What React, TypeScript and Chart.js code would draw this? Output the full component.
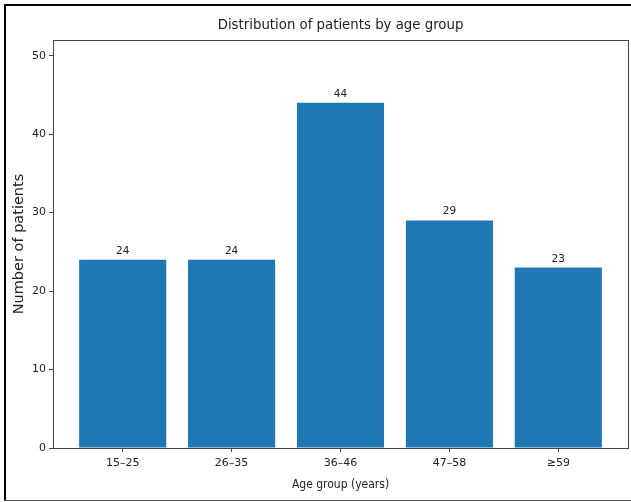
import React, { useEffect, useRef } from "react";
import { Chart, registerables } from "chart.js";

Chart.register(...registerables);

const categories = ["15–25", "26–35", "36–46", "47–58", "≥59"];
const patientCounts = [24, 24, 44, 29, 23];
const yTicks = [0, 10, 20, 30, 40, 50];

const titleText = "Distribution of patients by age group";
const xTitle = "Age group (years)";
const yTitle = "Number of patients";

const CFONT = "'DejaVu Sans Condensed', 'DejaVu Sans', sans-serif";
const FONT = "'DejaVu Sans', sans-serif";
const TEXT = "#222";
const SPINE = "#444";

const valueLabels = {
  id: "valueLabels",
  afterDatasetsDraw(chart: any) {
    const { ctx } = chart;
    const meta = chart.getDatasetMeta(0);
    ctx.save();
    ctx.font = `10.5px ${FONT}`;
    ctx.fillStyle = TEXT;
    ctx.textAlign = "center";
    ctx.textBaseline = "alphabetic";
    meta.data.forEach((el: any, i: number) => {
      ctx.fillText(String(patientCounts[i]), el.x, el.y - 6);
    });
    ctx.restore();
  },
};

const plotTitle = {
  id: "plotTitle",
  afterDraw(chart: any) {
    const { ctx, chartArea } = chart;
    ctx.save();
    ctx.font = `14.8px ${CFONT}`;
    ctx.fillStyle = TEXT;
    ctx.textAlign = "center";
    ctx.textBaseline = "middle";
    ctx.fillText(titleText, (chartArea.left + chartArea.right) / 2, 25);
    ctx.restore();
  },
};

const boxSpines = {
  id: "boxSpines",
  afterDraw(chart: any) {
    const { ctx, chartArea } = chart;
    ctx.save();
    ctx.strokeStyle = SPINE;
    ctx.lineWidth = 1;
    ctx.strokeRect(
      Math.round(chartArea.left) + 0.5,
      Math.round(chartArea.top) + 0.5,
      Math.round(chartArea.right - chartArea.left),
      Math.round(chartArea.bottom - chartArea.top)
    );
    ctx.restore();
  },
};

export default function App() {
  const ref = useRef<HTMLCanvasElement | null>(null);

  useEffect(() => {
    if (!ref.current) return;
    const chart = new Chart(ref.current, {
      type: "bar",
      data: {
        datasets: [
          {
            data: patientCounts.map((v, i) => ({ x: i, y: v })),
            backgroundColor: "#1f77b4",
            borderWidth: 0,
            categoryPercentage: 1,
            barPercentage: 0.8,
          },
        ],
      },
      options: {
        animation: false,
        responsive: true,
        maintainAspectRatio: false,
        layout: { padding: { left: 0, top: 40, right: 3, bottom: 0 } },
        plugins: {
          legend: { display: false },
          tooltip: { enabled: false },
          title: { display: false },
        },
        scales: {
          x: {
            type: "linear",
            min: -0.64,
            max: 4.64,
            offset: false,
            afterBuildTicks: (scale: any) => {
              scale.ticks = categories.map((_, i) => ({ value: i }));
            },
            afterFit: (scale: any) => {
              scale.height = 54;
            },
            ticks: {
              autoSkip: false,
              maxRotation: 0,
              color: TEXT,
              font: { family: FONT, size: 11 },
              padding: 5,
              callback: (v: any) => categories[v as number] ?? "",
            },
            grid: {
              display: true,
              offset: false,
              drawOnChartArea: false,
              drawTicks: true,
              tickLength: 4,
              color: SPINE,
            },
            border: { display: true, color: SPINE, width: 1 },
            title: {
              display: true,
              text: xTitle,
              color: TEXT,
              font: { family: CFONT, size: 12 },
              padding: { top: 0, bottom: 10 },
            },
          },
          y: {
            type: "linear",
            min: 0,
            max: 52,
            afterBuildTicks: (scale: any) => {
              scale.ticks = yTicks.map((v) => ({ value: v }));
            },
            afterFit: (scale: any) => {
              scale.width = 53;
            },
            ticks: {
              color: TEXT,
              font: { family: FONT, size: 11 },
              padding: 3,
            },
            grid: {
              display: true,
              drawOnChartArea: false,
              drawTicks: true,
              tickLength: 4,
              color: SPINE,
            },
            border: { display: true, color: SPINE, width: 1 },
            title: {
              display: true,
              text: yTitle,
              color: TEXT,
              font: { family: FONT, size: 14.5 },
              padding: { top: 11, bottom: 0 },
            },
          },
        },
      },
      plugins: [valueLabels, boxSpines, plotTitle],
    } as any);
    return () => chart.destroy();
  }, []);

  return (
    <div
      style={{
        position: "absolute",
        left: 0,
        top: 0,
        width: 631,
        height: 502,
        overflow: "hidden",
        background: "#fff",
      }}
    >
      <div style={{ position: "absolute", left: 4, top: 4, width: 627, height: 2, background: "#000" }} />
      <div style={{ position: "absolute", left: 4, top: 4, width: 2, height: 497, background: "#000" }} />
      <div style={{ position: "absolute", left: 4, top: 500, width: 627, height: 1, background: "#555" }} />
      <div style={{ position: "absolute", left: 0, top: 0, width: 631, height: 502 }}>
        <canvas ref={ref} />
      </div>
    </div>
  );
}
